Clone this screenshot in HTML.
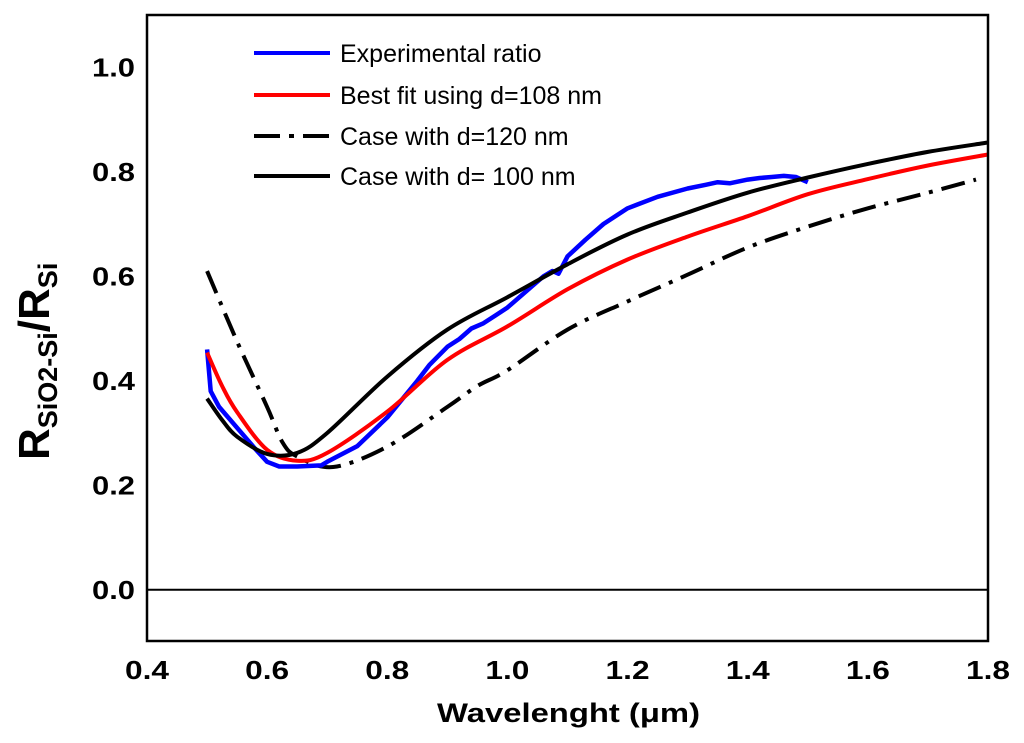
<!DOCTYPE html>
<html><head><meta charset="utf-8"><style>
html,body{margin:0;padding:0;background:#fff;}
svg{display:block;font-family:"Liberation Sans",Arial,sans-serif;}
</style></head><body>
<svg id="chart" width="1024" height="743" viewBox="0 0 1024 743" xmlns="http://www.w3.org/2000/svg">
<g id="plot"></g>
<g id="axes"></g>
<g id="legend"></g>
<text x="437" y="722" font-size="27" font-weight="bold" textLength="263" lengthAdjust="spacingAndGlyphs">Wavelenght (μm)</text>
<text transform="translate(49,460) rotate(-90)" font-weight="bold" font-size="44">R<tspan font-size="27" dy="8">SiO2-Si</tspan><tspan dy="-8">/R</tspan><tspan font-size="27" dy="8">Si</tspan></text>
</svg>
<script>
const xTicks=[0.4,0.6,0.8,1.0,1.2,1.4,1.6,1.8];
const yTicks=[0.0,0.2,0.4,0.6,0.8,1.0];
const expX=[0.5,0.503,0.506,0.52,0.55,0.58,0.6,0.62,0.65,0.69,0.7,0.75,0.8,0.85,0.87,0.9,0.92,0.94,0.96,0.98,1.0,1.02,1.04,1.06,1.075,1.085,1.1,1.13,1.16,1.2,1.25,1.3,1.33,1.35,1.37,1.4,1.42,1.44,1.46,1.48,1.5];
const expY=[0.46,0.42,0.38,0.35,0.31,0.27,0.245,0.236,0.236,0.238,0.245,0.275,0.33,0.4,0.43,0.465,0.48,0.5,0.51,0.525,0.54,0.56,0.58,0.6,0.61,0.605,0.638,0.67,0.7,0.73,0.752,0.768,0.775,0.78,0.778,0.785,0.788,0.79,0.792,0.79,0.78];
const fitX=[0.5,0.525,0.55,0.6,0.65,0.7,0.8,0.9,1.0,1.1,1.2,1.3,1.4,1.5,1.6,1.7,1.8];
const fitY=[0.454,0.39,0.34,0.268,0.247,0.262,0.341,0.44,0.504,0.575,0.632,0.676,0.715,0.757,0.786,0.812,0.833];
const d120X=[0.5,0.55,0.6,0.625,0.65,0.71,0.8,0.9,0.95,1.0,1.1,1.2,1.3,1.4,1.5,1.6,1.7,1.78];
const d120Y=[0.61,0.475,0.35,0.283,0.255,0.235,0.274,0.35,0.39,0.42,0.498,0.552,0.603,0.655,0.695,0.73,0.76,0.785];
const d100X=[0.5,0.525,0.55,0.6,0.65,0.7,0.8,0.9,1.0,1.1,1.2,1.3,1.4,1.5,1.6,1.7,1.8];
const d100Y=[0.366,0.325,0.293,0.26,0.262,0.3,0.408,0.498,0.56,0.623,0.68,0.722,0.76,0.789,0.815,0.838,0.856];
const legendLabels=["Experimental ratio","Best fit using d=108 nm","Case with d=120 nm","Case with d= 100 nm"];

const X0=147,X1=988,Y0=641,Y1=15,XMIN=0.4,XMAX=1.8,YMIN=-0.098,YMAX=1.1;
const sx=v=>X0+(v-XMIN)/(XMAX-XMIN)*(X1-X0);
const sy=v=>Y0-(v-YMIN)/(YMAX-YMIN)*(Y0-Y1);
const NS="http://www.w3.org/2000/svg";
const mk=(t,a,p)=>{const e=document.createElementNS(NS,t);for(const k in a)e.setAttribute(k,a[k]);p.appendChild(e);return e;};
const plot=document.getElementById('plot'),axes=document.getElementById('axes'),legend=document.getElementById('legend');

const zl=mk('line',{x1:X0,x2:X1,y1:sy(0),y2:sy(0),stroke:'#000','stroke-width':2},axes);


const fr=mk('rect',{x:X0,y:Y1,width:X1-X0,height:Y0-Y1,fill:'none',stroke:'#000','stroke-width':2.5},axes);


xTicks.forEach(v=>{const t=mk('text',{x:sx(v)-22,y:679,'font-size':26,'font-weight':'bold',textLength:44,lengthAdjust:'spacingAndGlyphs'},axes);t.textContent=v.toFixed(1);

});
yTicks.forEach(v=>{const t=mk('text',{x:92,y:sy(v)+9,'font-size':26,'font-weight':'bold',textLength:43,lengthAdjust:'spacingAndGlyphs'},axes);t.textContent=v.toFixed(1);

});

function path(xs,ys){return xs.map((x,i)=>(i?'L':'M')+sx(x).toFixed(1)+','+sy(ys[i]).toFixed(1)).join('');}
function smooth(xs,ys){let p=[];for(let i=0;i<xs.length;i++)p.push([sx(xs[i]),sy(ys[i])]);let d='M'+p[0].join(',');
for(let i=0;i<p.length-1;i++){const a=p[i-1]||p[i],b=p[i],c=p[i+1],e=p[i+2]||c;
d+='C'+(b[0]+(c[0]-a[0])/6).toFixed(1)+','+(b[1]+(c[1]-a[1])/6).toFixed(1)+' '+(c[0]-(e[0]-b[0])/6).toFixed(1)+','+(c[1]-(e[1]-b[1])/6).toFixed(1)+' '+c[0].toFixed(1)+','+c[1].toFixed(1);}return d;}

const s1=mk('path',{d:smooth(d120X,d120Y),fill:'none',stroke:'#000','stroke-width':4,'stroke-dasharray':'24,9,4,9'},plot);


const s2=mk('path',{d:path(expX,expY),fill:'none',stroke:'#0000ff','stroke-width':4.5,'stroke-linejoin':'round'},plot);


const s3=mk('path',{d:smooth(fitX,fitY),fill:'none',stroke:'#ff0000','stroke-width':4},plot);


const s4=mk('path',{d:smooth(d100X,d100Y),fill:'none',stroke:'#000','stroke-width':4},plot);



const styles=[{stroke:'#0000ff'},{stroke:'#ff0000'},{stroke:'#000','stroke-dasharray':'26,9,5,9'},{stroke:'#000'}];
const rows=[53,95,136,176];
legendLabels.forEach((lab,i)=>{const g=mk('g',{},legend);


const l=mk('line',Object.assign({x1:254,x2:330,y1:rows[i],y2:rows[i],'stroke-width':4},styles[i]),g);
const t=mk('text',{x:340,y:rows[i]+9,'font-size':25},g);t.textContent=lab;});
</script>
</body></html>
